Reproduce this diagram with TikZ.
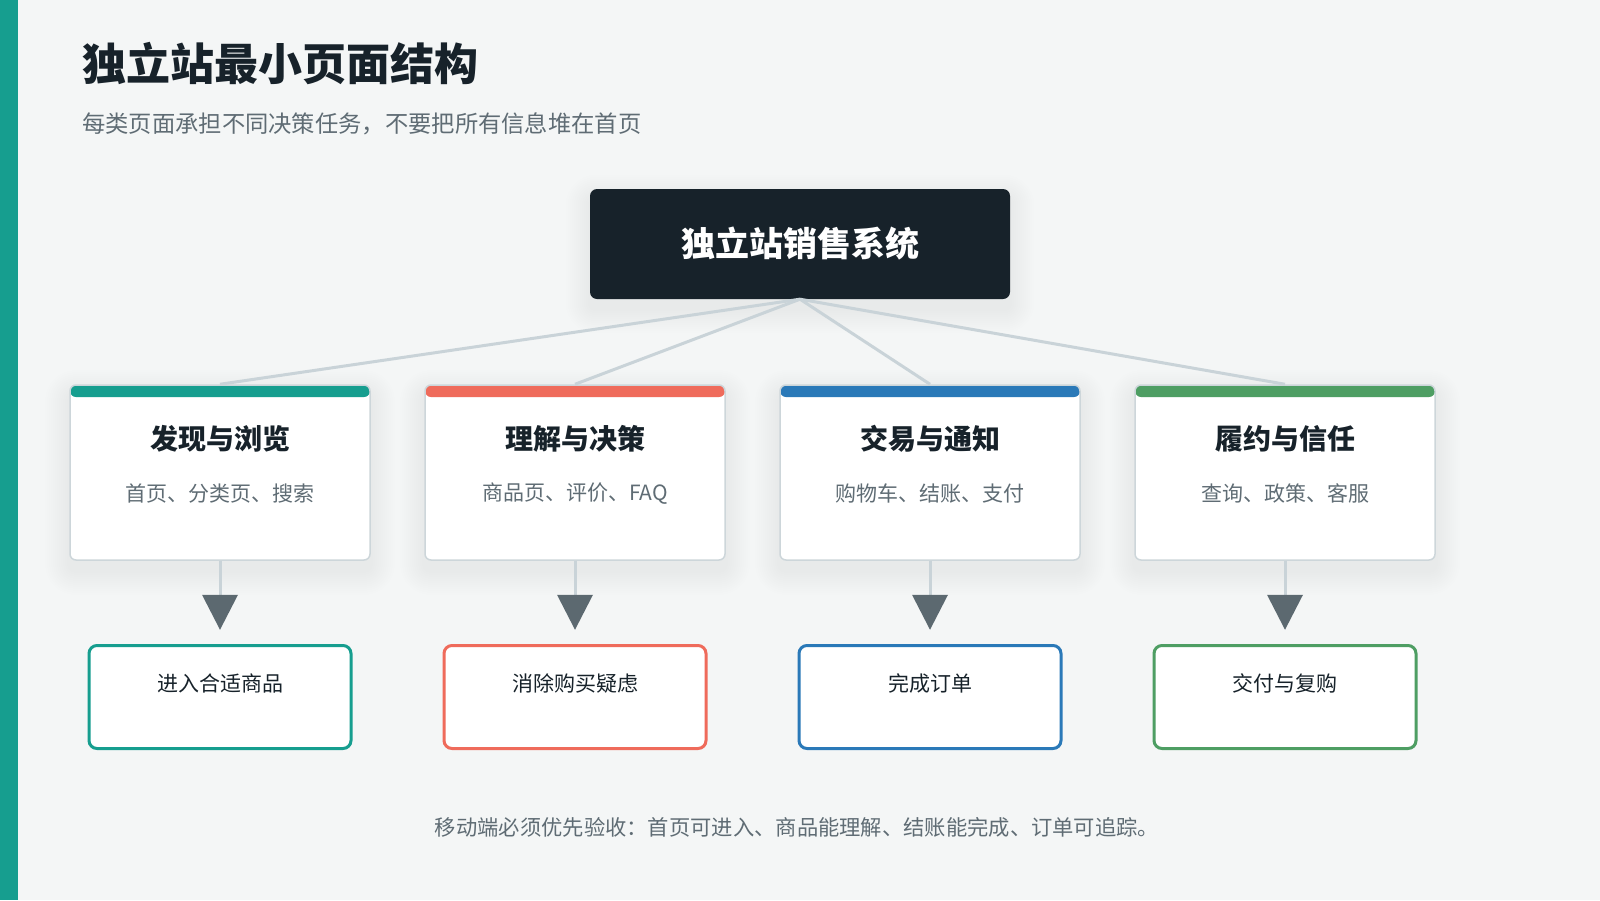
\documentclass[tikz,border=0pt]{standalone}
\usepackage{fontspec}
\setmainfont{Noto Sans CJK SC}
\usetikzlibrary{calc,backgrounds}
\definecolor{bgcol}{HTML}{F4F6F6}
\definecolor{tealc}{HTML}{169E8F}
\definecolor{coralc}{HTML}{EF6B5B}
\definecolor{bluec}{HTML}{2A79B8}
\definecolor{greenc}{HTML}{4E9E63}
\definecolor{darkc}{HTML}{17222A}
\definecolor{connc}{HTML}{C9D3D8}
\definecolor{borderc}{HTML}{CDD6DA}
\definecolor{grayt}{HTML}{5F6C74}
\definecolor{tric}{HTML}{5C6970}
\begin{document}
\begin{tikzpicture}[x=1pt,y=-1pt,
  titlestyle/.style={anchor=west,inner sep=0pt,text=darkc,font=\fontsize{44}{50}\selectfont\bfseries},
  subtitlestyle/.style={anchor=west,inner sep=0pt,text=grayt,font=\fontsize{23.3}{28}\selectfont},
  topbox/.style={fill=darkc,rounded corners=7pt,minimum width=420pt,minimum height=110pt,inner sep=0pt,text=white,font=\fontsize{34}{40}\selectfont\bfseries},
  card/.style={fill=white,draw=borderc,line width=1.5pt,rounded corners=6pt,minimum width=300pt,minimum height=175pt,inner sep=0pt,
    path picture={\fill[#1] (path picture bounding box.north west) rectangle ([yshift=-12pt]path picture bounding box.north east);}},
  ctitle/.style={inner sep=0pt,text=darkc,font=\fontsize{28}{34}\selectfont\bfseries},
  csub/.style={inner sep=0pt,text=grayt,font=\fontsize{21}{26}\selectfont},
  outbox/.style={fill=white,draw=#1,line width=3pt,rounded corners=8pt,minimum width=262pt,minimum height=103pt,inner sep=0pt},
  otext/.style={inner sep=0pt,text=darkc,font=\fontsize{21}{26}\selectfont},
  conn/.style={draw=connc,line width=3pt},
  tri/.style={fill=tric},
  foot/.style={inner sep=0pt,text=grayt,font=\fontsize{21.3}{26}\selectfont}
]
\begin{pgfonlayer}{background}
\fill[bgcol] (0,0) rectangle (1600,900);
\end{pgfonlayer}
\useasboundingbox (0,0) rectangle (1600,900);
\fill[tealc] (0,0) rectangle (18,900);

\node[titlestyle] (title) at (82,63) {独立站最小页面结构};
\node[subtitlestyle] (subtitle) at (82,124) {每类页面承担不同决策任务，不要把所有信息堆在首页};

\node[topbox] (top) at (800,244) {独立站销售系统};

\foreach \i/\x/\col/\ti/\su/\ou in {
  1/220/tealc/发现与浏览/首页、分类页、搜索/进入合适商品,
  2/575/coralc/理解与决策/商品页、评价、FAQ/消除购买疑虑,
  3/930/bluec/交易与通知/购物车、结账、支付/完成订单,
  4/1285/greenc/履约与信任/查询、政策、客服/交付与复购}{
  \node[card=\col] (c\i) at (\x,472.5) {};
  \node[ctitle] (c\i t) at ($(c\i.north)+(0,55)$) {\ti};
  \node[csub] (c\i s) at ($(c\i.north)+(0,109)$) {\su};
  \node[outbox=\col] (o\i) at (\x,697) {};
  \node[otext] (o\i t) at (\x,683) {\ou};
  \coordinate (d\i) at ($(c\i.south)+(0,35)$);
  \draw[conn] (c\i.south) -- (d\i);
  \fill[tri] ($(d\i)+(-18,-1)$) -- ($(d\i)+(18,-1)$) -- ($(d\i)+(0,34)$) -- cycle;
  \draw[conn] (top.south) -- (c\i.north);
}

\begin{pgfonlayer}{background}
\foreach \n in {top,c1,c2,c3,c4}{
  \foreach \s in {1,...,12}{
    \fill[black,opacity=0.0055,rounded corners={6pt+2pt*\s}] ($(\n.north west)+(-2*\s,-2*\s+10)$) rectangle ($(\n.south east)+(2*\s,2*\s+10)$);
  }
}
\end{pgfonlayer}

\node[foot] (footer) at (797,827) {移动端必须优先验收：首页可进入、商品能理解、结账能完成、订单可追踪。};
\end{tikzpicture}
\end{document}
